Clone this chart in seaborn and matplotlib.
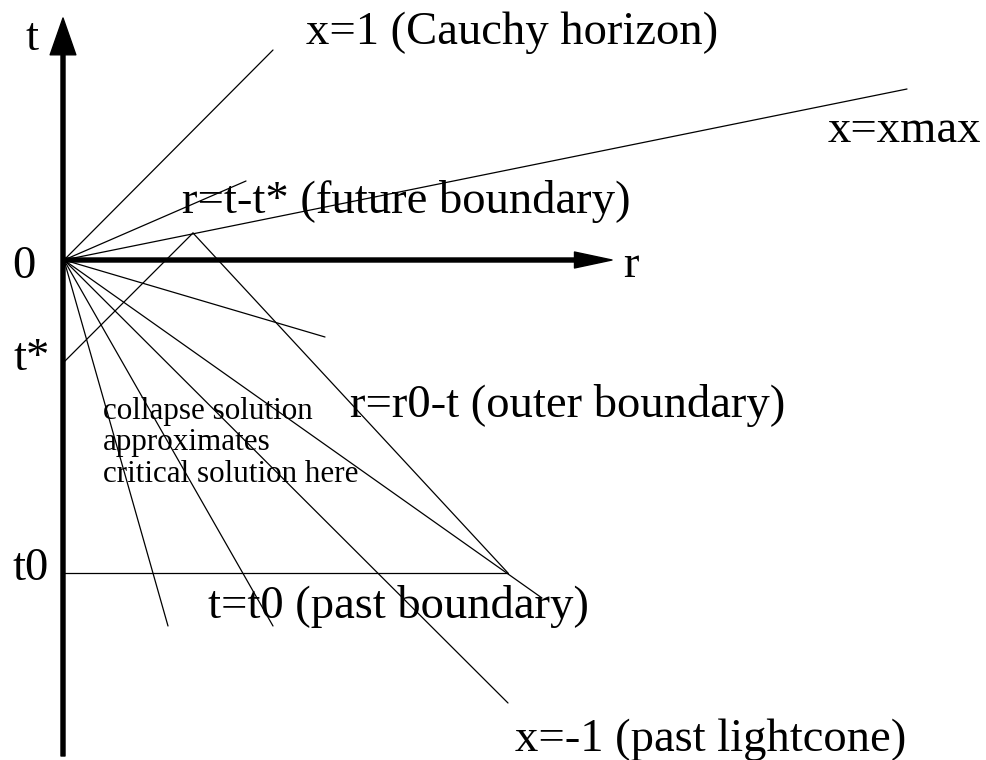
import pandas as pd
import seaborn as sns
import matplotlib.pyplot as plt

# spacetime diagram, coords in (r, t), origin at the point of collapse
# rays from the origin: x=1, an inner ray, x=xmax
up_r = [2.09, 1.82, 8.43]
up_t = [2.10, 0.79, 1.71]
# rays going into the past, last three reach below t0
down_r = [2.61, 4.78, 4.44, 2.09, 1.04]
down_t = [-0.77, -3.38, -4.43, -3.66, -3.66]

t_star = -1.02
t0 = -3.13
peak_r, peak_t = 1.29, 0.27
corner_r = 4.44

tick_labels = ['0', 't*', 't0']

# build line segments
rows = []
seg = 0
for r, t in zip(up_r + down_r, up_t + down_t):
    rows += [(seg, 0.0, 0.0), (seg, r, t)]
    seg += 1
# future boundary r = t - t*
rows += [(seg, 0.0, t_star), (seg, peak_r, peak_t)]
seg += 1
# outer boundary r = r0 - t
rows += [(seg, peak_r, peak_t), (seg, corner_r, t0)]
seg += 1
# past boundary t = t0
rows += [(seg, 0.0, t0), (seg, corner_r, t0)]
df = pd.DataFrame(rows, columns=['seg', 'r', 't'])

sns.set_style('white')
plt.rcParams['font.family'] = ['Liberation Serif', 'DejaVu Serif']

fig = plt.figure(figsize=(9.87, 7.60), dpi=100)
ax = fig.add_axes([0, 0, 1, 1])
sns.lineplot(data=df, x='r', y='t', units='seg', estimator=None, sort=False,
             color='black', lw=0.9, ax=ax, legend=False)

# thick axes with arrow heads
ax.annotate('', xy=(-0.01, 2.42), xytext=(-0.01, -4.96),
            arrowprops=dict(width=2.9, headwidth=18.5, headlength=26.5,
                            facecolor='black', edgecolor='black', shrink=0))
ax.annotate('', xy=(5.48, 0.0), xytext=(-0.02, 0.0),
            arrowprops=dict(width=2.9, headwidth=11.5, headlength=27,
                            facecolor='black', edgecolor='black', shrink=0))

fs = 33.6
kw = dict(fontsize=fs, ha='left', va='baseline', color='black')
ax.text(-0.39, 2.10, 't', **kw)
ax.text(5.59, -0.17, 'r', **kw)
ax.text(-0.52, -0.18, tick_labels[0], **kw)
ax.text(-0.51, -1.10, tick_labels[1], **kw)
ax.text(-0.52, -3.20, tick_labels[2], **kw)

ax.text(2.42, 2.16, 'x=1 (Cauchy horizon)', **kw)
ax.text(7.64, 1.18, 'x=xmax', **kw)
ax.text(1.18, 0.47, 'r=t-t* (future boundary)', **kw)
ax.text(2.86, -1.57, 'r=r0-t (outer boundary)', **kw)
ax.text(1.44, -3.58, 't=t0 (past boundary)', **kw)
ax.text(4.51, -4.91, 'x=-1 (past lightcone)', **kw)
ax.text(0.39, -2.22, 'collapse solution\napproximates\ncritical solution here',
        fontsize=22.4, ha='left', va='baseline', linespacing=1.12,
        color='black')

ax.set_xlim(-0.64, 9.23)
ax.set_ylim(-5.0, 2.60)
ax.axis('off')
fig.savefig('out.png', dpi=100)
